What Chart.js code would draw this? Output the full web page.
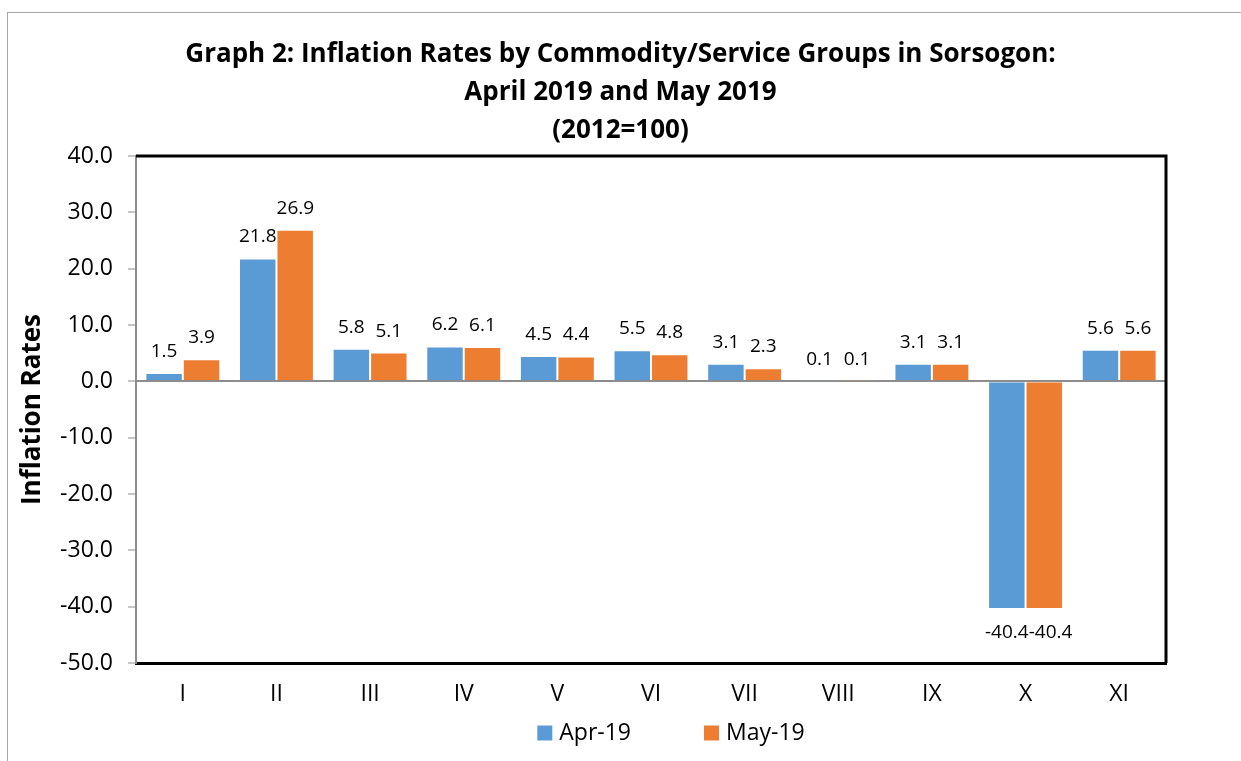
<!DOCTYPE html>
<html>
<head>
<meta charset="utf-8">
<script src="https://cdn.jsdelivr.net/npm/chart.js@4.4.0/dist/chart.umd.min.js"></script>
<style>
  html, body { margin: 0; padding: 0; background: #fff; overflow: hidden; }
  #frame { position: absolute; left: 7px; top: 12px; width: 1300px; height: 800px; border: 1px solid #a6a6a6; }
  #wrap { position: absolute; left: 0; top: 0; width: 1241px; height: 761px; }
</style>
</head>
<body>
<div id="frame"></div>
<div id="wrap"><canvas id="chart" width="1241" height="761"></canvas></div>
<script>
const categories = ["I", "II", "III", "IV", "V", "VI", "VII", "VIII", "IX", "X", "XI"];
const seriesNames = ["Apr-19", "May-19"];
const apr19 = [1.5, 21.8, 5.8, 6.2, 4.5, 5.5, 3.1, 0.1, 3.1, -40.4, 5.6];
const may19 = [3.9, 26.9, 5.1, 6.1, 4.4, 4.8, 2.3, 0.1, 3.1, -40.4, 5.6];
const titleLines = [
  "Graph 2: Inflation Rates by Commodity/Service Groups in Sorsogon:",
  "April 2019 and May 2019",
  "(2012=100)"
];
const yAxisTitle = "Inflation Rates";
const yMin = -50;
const yMax = 40;
const yStep = 10;

const FONT = "'Open Sans', sans-serif";

// value labels above / below each bar; a label that would run into the
// previous one in the same group is pushed to the right
const barLabels = {
  id: "barLabels",
  afterDatasetsDraw(chart) {
    const ctx = chart.ctx;
    ctx.save();
    ctx.font = "19px " + FONT;
    ctx.fillStyle = "#000";
    ctx.textAlign = "center";
    const n = chart.data.labels.length;
    for (let j = 0; j < n; j++) {
      let prevRight = -Infinity;
      chart.data.datasets.forEach((ds, i) => {
        const bar = chart.getDatasetMeta(i).data[j];
        const v = ds.data[j];
        const text = v.toFixed(1);
        const w = ctx.measureText(text).width;
        let x = bar.x;
        if (x - w / 2 < prevRight) x = prevRight + w / 2;
        prevRight = x + w / 2;
        if (v >= 0) {
          ctx.textBaseline = "bottom";
          ctx.fillText(text, x, bar.y - 12);
        } else {
          ctx.textBaseline = "top";
          ctx.fillText(text, x, bar.y + 14);
        }
      });
    }
    ctx.restore();
  }
};

// black top and right edge of the plot area
const plotFrame = {
  id: "plotFrame",
  afterDraw(chart) {
    const { ctx, chartArea: a } = chart;
    ctx.save();
    ctx.strokeStyle = "#000";
    ctx.lineWidth = 3;
    ctx.beginPath();
    ctx.moveTo(a.left, a.top);
    ctx.lineTo(a.right, a.top);
    ctx.lineTo(a.right, a.bottom);
    ctx.stroke();
    ctx.restore();
  }
};

// legend under the x axis, Excel style
const bottomLegend = {
  id: "bottomLegend",
  afterDraw(chart) {
    const { ctx, chartArea: a } = chart;
    const box = 15, gap = 7, spacing = 73;
    ctx.save();
    ctx.font = "23px " + FONT;
    ctx.textBaseline = "middle";
    ctx.textAlign = "left";
    const items = chart.data.datasets.map(ds => ({
      text: ds.label, color: ds.backgroundColor, w: ctx.measureText(ds.label).width
    }));
    let total = items.reduce((s, it) => s + box + gap + it.w, 0) + spacing * (items.length - 1);
    let x = (a.left + a.right) / 2 + 20 - total / 2;
    const y = a.bottom + 70;
    items.forEach(it => {
      ctx.fillStyle = it.color;
      ctx.fillRect(x, y - box / 2, box, box);
      ctx.fillStyle = "#000";
      ctx.fillText(it.text, x + box + gap, y);
      x += box + gap + it.w + spacing;
    });
    ctx.restore();
  }
};

new Chart(document.getElementById("chart"), {
  type: "bar",
  data: {
    labels: categories,
    datasets: [
      { label: seriesNames[0], data: apr19, backgroundColor: "#5B9BD5", borderColor: "rgba(255,255,255,0.6)", borderWidth: 1 },
      { label: seriesNames[1], data: may19, backgroundColor: "#ED7D31", borderColor: "rgba(255,255,255,0.6)", borderWidth: 1 }
    ]
  },
  options: {
    responsive: false,
    animation: false,
    devicePixelRatio: 1,
    layout: { padding: { left: 0, right: 0, top: 0, bottom: 0 } },
    datasets: { bar: { categoryPercentage: 0.8, barPercentage: 1.0 } },
    plugins: {
      legend: { display: false },
      tooltip: { enabled: false },
      title: {
        display: true,
        text: titleLines,
        color: "#000",
        font: { family: FONT, size: 26, weight: "bold", lineHeight: 1.4615 },
        padding: { top: 36, bottom: 6 }
      }
    },
    scales: {
      x: {
        grid: { display: false },
        border: { color: "#000", width: 3 },
        ticks: { color: "#000", font: { family: FONT, size: 23 }, padding: 10 },
        afterFit(s) { s.height = 98; }
      },
      y: {
        min: yMin,
        max: yMax,
        ticks: {
          stepSize: yStep,
          color: "#000",
          font: { family: FONT, size: 23 },
          padding: 15,
          callback: v => Number(v).toFixed(1)
        },
        grid: {
          color: c => (c.tick && c.tick.value === 0 ? "#8c8c8c" : "rgba(0,0,0,0)"),
          lineWidth: 2,
          tickColor: "#8c8c8c",
          tickWidth: 1,
          tickLength: 8
        },
        border: { color: "#8c8c8c", width: 2 },
        title: {
          display: true,
          text: yAxisTitle,
          color: "#000",
          font: { family: FONT, size: 26, weight: "bold" },
          padding: { top: 17, bottom: 0 }
        },
        afterFit(s) { s.width = 136; }
      },
      yRight: {
        position: "right",
        grid: { display: false },
        border: { display: false },
        ticks: { display: false },
        afterFit(s) { s.width = 75; }
      }
    }
  },
  plugins: [barLabels, plotFrame, bottomLegend]
});
</script>
</body>
</html>
